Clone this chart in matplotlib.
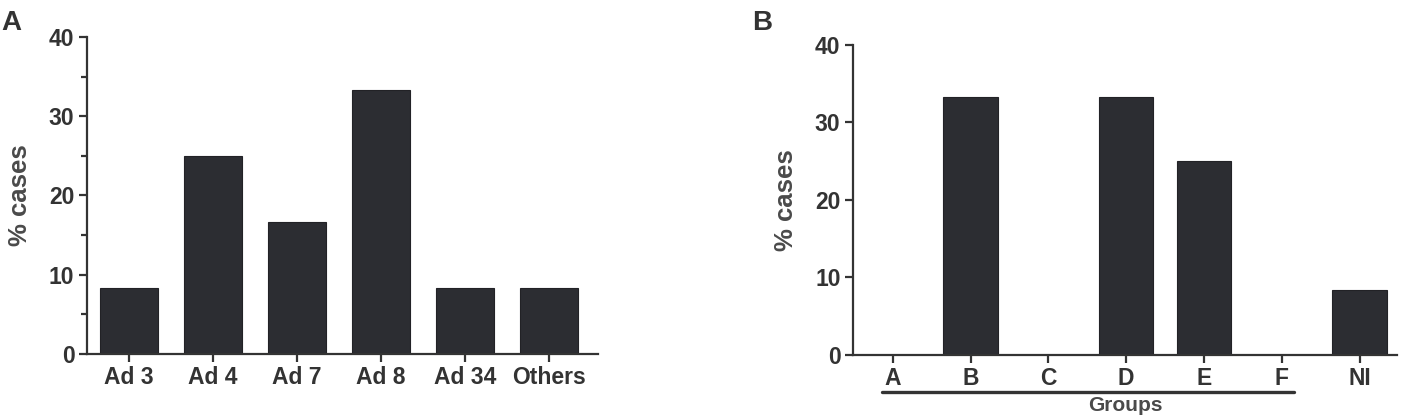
import matplotlib
matplotlib.use('Agg')
import matplotlib.pyplot as plt
from matplotlib.ticker import MultipleLocator

# Panel A: adenovirus types
types_a = ["Ad 3", "Ad 4", "Ad 7", "Ad 8", "Ad 34", "Others"]
pct_a = [8.33, 25.0, 16.67, 33.33, 8.33, 8.33]

# Panel B: adenovirus groups
groups_b = ["A", "B", "C", "D", "E", "F", "NI"]
pct_b = [0, 33.33, 0, 33.33, 25.0, 0, 8.33]

bar_color = "#2c2d32"
ink = "#333333"
label_ink = "#4a4a4a"

plt.rcParams['font.family'] = ['Liberation Sans', 'DejaVu Sans']

fig = plt.figure(figsize=(14.09, 4.15), dpi=100)
axA = fig.add_axes([0.0617, 0.147, 0.3627, 0.764])
axB = fig.add_axes([0.6054, 0.1446, 0.3861, 0.747])


def style(ax, xlab_x):
    for s in ["top", "right"]:
        ax.spines[s].set_visible(False)
    for s in ["left", "bottom"]:
        ax.spines[s].set_linewidth(1.6)
        ax.spines[s].set_color(ink)
    ax.set_ylim(0, 40)
    ax.yaxis.set_major_locator(MultipleLocator(10))
    ax.tick_params(axis="both", which="major", length=6, width=1.6, color=ink,
                   labelsize=16.5, labelcolor=ink, pad=3)
    for lab in ax.get_xticklabels() + ax.get_yticklabels():
        lab.set_fontweight("bold")
    ax.set_ylabel("% cases", fontsize=18.5, color=label_ink, fontweight="bold")
    ax.yaxis.set_label_coords(xlab_x, 0.5)


xa = list(range(len(types_a)))
axA.bar(xa, pct_a, width=0.69, color=bar_color, edgecolor="#222226", linewidth=0.8)
axA.set_xticks(xa)
axA.set_xticklabels(types_a)
axA.set_xlim(-0.5, 5.58)
style(axA, -0.108)
axA.yaxis.set_minor_locator(MultipleLocator(5))
axA.tick_params(axis="y", which="minor", length=4, width=1.6, color=ink)

xb = list(range(len(groups_b)))
axB.bar(xb, pct_b, width=0.7, color=bar_color, edgecolor="#222226", linewidth=0.8)
axB.set_xticks(xb)
axB.set_xticklabels(groups_b)
axB.set_xlim(-0.51, 6.48)
style(axB, -0.101)
axB.set_xlabel("Groups", fontsize=15, color=label_ink, fontweight="bold")
axB.xaxis.set_label_coords(0.5, -0.132)
axB.xaxis.label.set_va("top")

# underline grouping A-F
tr = axB.get_xaxis_transform()
axB.plot([-0.14, 5.15], [-0.119, -0.119], transform=tr, color=ink, lw=2.4,
         solid_capstyle="round", clip_on=False)

fig.text(0.001, 0.945, "A", fontsize=20, fontweight="bold", color=ink, va="center")
fig.text(0.5335, 0.945, "B", fontsize=20, fontweight="bold", color=ink, va="center")

fig.savefig("out.png", dpi=100)
